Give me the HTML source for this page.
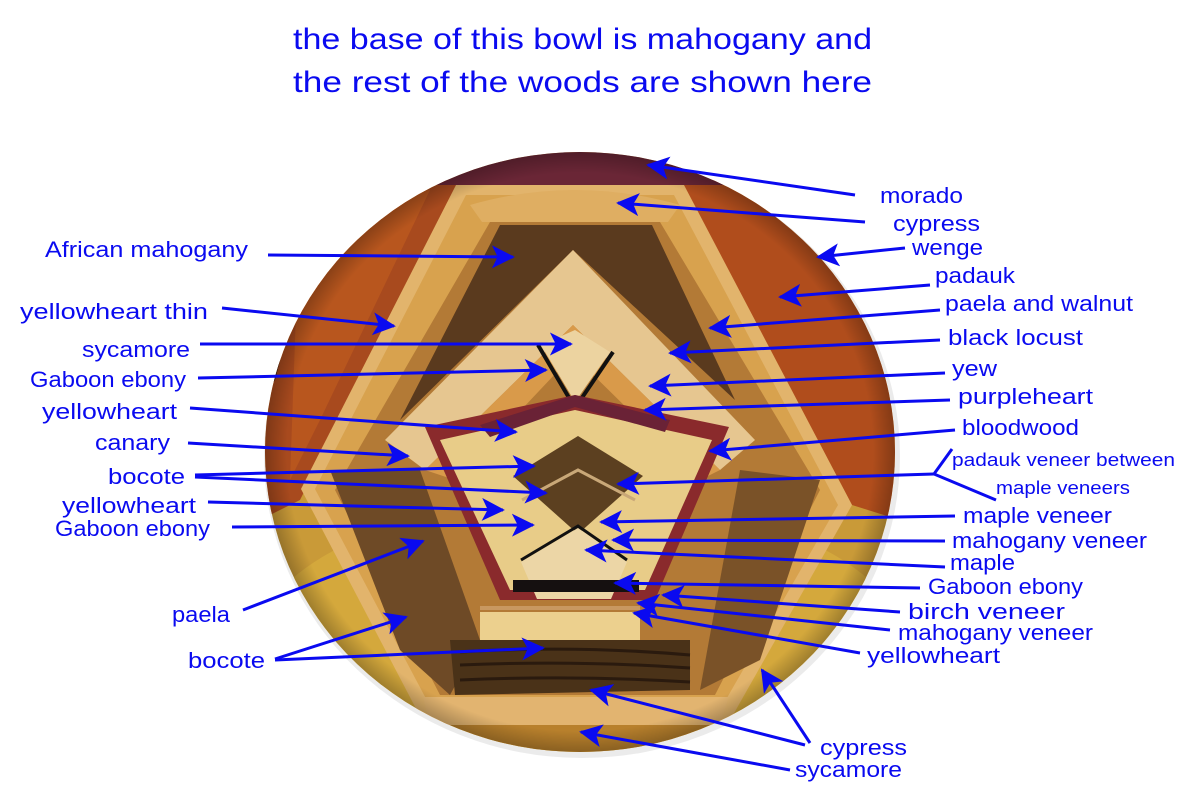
<!DOCTYPE html>
<html><head><meta charset="utf-8"><style>
html,body{margin:0;padding:0;background:#fff;width:1200px;height:803px;overflow:hidden}
svg{display:block}
text{font-family:"Liberation Sans",sans-serif;fill:#0a0af0}
</style></head><body>
<svg width="1200" height="803" viewBox="0 0 1200 803" xmlns="http://www.w3.org/2000/svg">
<defs>
<clipPath id="bowl"><ellipse cx="580" cy="452" rx="315" ry="300"/></clipPath>
<radialGradient id="sh" cx="0.5" cy="0.5" r="0.5"><stop offset="0.93" stop-color="#000" stop-opacity="0"/><stop offset="1" stop-color="#000" stop-opacity="0.25"/></radialGradient>
<marker id="a" viewBox="0 0 12 12" refX="11" refY="6" markerWidth="23" markerHeight="23" orient="auto" markerUnits="userSpaceOnUse"><path d="M0,0 L12,6 L0,12 L3,6 z" fill="#0a0af0"/></marker>
</defs>
<ellipse cx="582" cy="456" rx="318" ry="302" fill="#ddd" opacity="0.6"/>
<g clip-path="url(#bowl)">
<rect x="260" y="150" width="650" height="610" fill="#c99a38"/>
<ellipse cx="580" cy="640" rx="320" ry="140" fill="#d4a83c"/>
<rect x="260" y="720" width="650" height="40" fill="#b8802c"/>
<polygon points="260,180 460,180 300,500 260,520" fill="#a84a1e"/>
<polygon points="300,200 430,190 320,420 290,480" fill="#b8561e"/>
<polygon points="680,180 830,180 900,400 900,520 852,505" fill="#b04d1c"/>
<polygon points="780,150 910,150 910,420 880,330" fill="#2e1a14"/>
<polygon points="260,170 330,170 275,380 260,400" fill="#3a2016"/>
<rect x="260" y="150" width="650" height="35" fill="#6a2636"/>
<polygon points="456,185 684,185 852,505 729,722 423,722 301,489" fill="#e2b46c"/>
<polygon points="466,195 674,195 838,505 720,710 432,710 315,489" fill="#d8a24e"/>
<path d="M470,205 Q575,175 680,205 L668,222 L482,222 z" fill="#dfae62"/>
<polygon points="490,222 660,222 820,490 715,695 440,695 335,490" fill="#b37a36"/>
<polygon points="330,470 420,470 480,640 450,695 400,650" fill="#6e4a26"/>
<polygon points="740,470 820,480 760,660 700,690" fill="#7a5228"/>
<polygon points="500,225 652,225 735,400 573,250 400,420" fill="#5a3a1e"/>
<polygon points="573,250 755,440 720,470 573,325 425,470 385,440" fill="#e6c690"/>
<polygon points="573,325 720,470 700,480 573,355 455,480 425,470" fill="#d99a4a"/>
<polyline points="538,345 575,408 613,352" fill="none" stroke="#111" stroke-width="4"/>
<polygon points="541,345 575,402 610,352 575,330" fill="#ecd3a0"/>
<polygon points="575,395 729,427 655,600 500,600 425,427" fill="#8a2a2c"/>
<polygon points="575,410 712,440 645,590 510,590 440,440" fill="#e8cc88"/>
<polygon points="480,425 575,395 575,407 490,437" fill="#6a2236"/>
<polygon points="575,395 670,420 665,432 575,407" fill="#6a2236"/>
<polygon points="578,436 643,476 578,534 513,476" fill="#5c4020"/>
<polyline points="522,500 578,470 635,500" fill="none" stroke="#c9a878" stroke-width="3"/>
<polygon points="521,562 578,528 627,562 611,599 537,599" fill="#ecd6a6"/>
<polyline points="521,560 578,526 627,560" fill="none" stroke="#111" stroke-width="3"/>
<rect x="513" y="580" width="126" height="12" fill="#151010"/>
<rect x="480" y="606" width="160" height="4" fill="#c89860"/>
<rect x="480" y="612" width="160" height="28" fill="#ecd08e"/>
<polygon points="450,640 690,640 690,690 455,695" fill="#4a3218"/>
<path d="M460,652 Q575,645 690,655 M460,665 Q575,660 690,668 M460,680 Q575,675 690,682" stroke="#2a1a0e" stroke-width="3" fill="none"/>
<polygon points="423,697 729,697 720,725 430,725" fill="#e2b470"/>
<ellipse cx="580" cy="452" rx="315" ry="300" fill="url(#sh)"/>
</g>
<text x="293" y="49" font-size="30" textLength="579" lengthAdjust="spacingAndGlyphs">the base of this bowl is mahogany and</text>
<text x="293" y="92" font-size="30" textLength="579" lengthAdjust="spacingAndGlyphs">the rest of the woods are shown here</text>
<g stroke="#0a0af0" stroke-width="3" fill="none">
<line x1="855" y1="195" x2="648" y2="165" marker-end="url(#a)"/>
<line x1="865" y1="222" x2="618" y2="203" marker-end="url(#a)"/>
<line x1="905" y1="248" x2="818" y2="257" marker-end="url(#a)"/>
<line x1="930" y1="285" x2="780" y2="297" marker-end="url(#a)"/>
<line x1="940" y1="310" x2="710" y2="328" marker-end="url(#a)"/>
<line x1="940" y1="340" x2="670" y2="353" marker-end="url(#a)"/>
<line x1="945" y1="373" x2="650" y2="386" marker-end="url(#a)"/>
<line x1="950" y1="400" x2="645" y2="410" marker-end="url(#a)"/>
<line x1="955" y1="430" x2="710" y2="451" marker-end="url(#a)"/>
<line x1="934" y1="474" x2="618" y2="484" marker-end="url(#a)"/>
<polyline points="952,449 934,474 996,500"/>
<line x1="955" y1="516" x2="601" y2="522" marker-end="url(#a)"/>
<line x1="945" y1="541" x2="613" y2="540" marker-end="url(#a)"/>
<line x1="945" y1="567" x2="586" y2="550" marker-end="url(#a)"/>
<line x1="920" y1="588" x2="615" y2="583" marker-end="url(#a)"/>
<line x1="900" y1="612" x2="663" y2="595" marker-end="url(#a)"/>
<line x1="890" y1="630" x2="638" y2="603" marker-end="url(#a)"/>
<line x1="860" y1="653" x2="634" y2="613" marker-end="url(#a)"/>
<line x1="810" y1="743" x2="762" y2="670" marker-end="url(#a)"/>
<line x1="805" y1="745" x2="591" y2="690" marker-end="url(#a)"/>
<line x1="790" y1="770" x2="581" y2="732" marker-end="url(#a)"/>
<line x1="268" y1="255" x2="513" y2="257" marker-end="url(#a)"/>
<line x1="222" y1="308" x2="394" y2="326" marker-end="url(#a)"/>
<line x1="200" y1="344" x2="571" y2="344" marker-end="url(#a)"/>
<line x1="198" y1="378" x2="546" y2="370" marker-end="url(#a)"/>
<line x1="190" y1="408" x2="516" y2="432" marker-end="url(#a)"/>
<line x1="188" y1="443" x2="408" y2="456" marker-end="url(#a)"/>
<line x1="195" y1="475" x2="534" y2="466" marker-end="url(#a)"/>
<line x1="195" y1="477" x2="546" y2="493" marker-end="url(#a)"/>
<line x1="208" y1="502" x2="503" y2="510" marker-end="url(#a)"/>
<line x1="232" y1="527" x2="533" y2="525" marker-end="url(#a)"/>
<line x1="243" y1="610" x2="423" y2="541" marker-end="url(#a)"/>
<line x1="275" y1="659" x2="406" y2="617" marker-end="url(#a)"/>
<line x1="275" y1="660" x2="543" y2="648" marker-end="url(#a)"/>
</g>
<g font-size="22">
<text x="880" y="203" textLength="83" lengthAdjust="spacingAndGlyphs">morado</text>
<text x="893" y="231" textLength="87" lengthAdjust="spacingAndGlyphs">cypress</text>
<text x="912" y="255" textLength="71" lengthAdjust="spacingAndGlyphs">wenge</text>
<text x="935" y="283" textLength="80" lengthAdjust="spacingAndGlyphs">padauk</text>
<text x="945" y="311" textLength="188" lengthAdjust="spacingAndGlyphs">paela and walnut</text>
<text x="948" y="345" textLength="135" lengthAdjust="spacingAndGlyphs">black locust</text>
<text x="952" y="376" textLength="45" lengthAdjust="spacingAndGlyphs">yew</text>
<text x="958" y="404" textLength="135" lengthAdjust="spacingAndGlyphs">purpleheart</text>
<text x="962" y="435" textLength="117" lengthAdjust="spacingAndGlyphs">bloodwood</text>
<text x="952" y="466" font-size="18" textLength="223" lengthAdjust="spacingAndGlyphs">padauk veneer between</text>
<text x="996" y="494" font-size="18" textLength="134" lengthAdjust="spacingAndGlyphs">maple veneers</text>
<text x="963" y="523" textLength="149" lengthAdjust="spacingAndGlyphs">maple veneer</text>
<text x="952" y="548" textLength="195" lengthAdjust="spacingAndGlyphs">mahogany veneer</text>
<text x="950" y="570" textLength="65" lengthAdjust="spacingAndGlyphs">maple</text>
<text x="928" y="594" textLength="155" lengthAdjust="spacingAndGlyphs">Gaboon ebony</text>
<text x="908" y="619" textLength="157" lengthAdjust="spacingAndGlyphs">birch veneer</text>
<text x="898" y="640" textLength="195" lengthAdjust="spacingAndGlyphs">mahogany veneer</text>
<text x="867" y="663" textLength="133" lengthAdjust="spacingAndGlyphs">yellowheart</text>
<text x="820" y="755" textLength="87" lengthAdjust="spacingAndGlyphs">cypress</text>
<text x="795" y="777" textLength="107" lengthAdjust="spacingAndGlyphs">sycamore</text>
<text x="45" y="257" textLength="203" lengthAdjust="spacingAndGlyphs">African mahogany</text>
<text x="20" y="319" textLength="188" lengthAdjust="spacingAndGlyphs">yellowheart thin</text>
<text x="82" y="357" textLength="108" lengthAdjust="spacingAndGlyphs">sycamore</text>
<text x="30" y="387" textLength="156" lengthAdjust="spacingAndGlyphs">Gaboon ebony</text>
<text x="42" y="419" textLength="135" lengthAdjust="spacingAndGlyphs">yellowheart</text>
<text x="95" y="450" textLength="75" lengthAdjust="spacingAndGlyphs">canary</text>
<text x="108" y="484" textLength="77" lengthAdjust="spacingAndGlyphs">bocote</text>
<text x="62" y="513" textLength="134" lengthAdjust="spacingAndGlyphs">yellowheart</text>
<text x="55" y="536" textLength="155" lengthAdjust="spacingAndGlyphs">Gaboon ebony</text>
<text x="172" y="622" textLength="58" lengthAdjust="spacingAndGlyphs">paela</text>
<text x="188" y="668" textLength="77" lengthAdjust="spacingAndGlyphs">bocote</text>
</g>
</svg>
</body></html>
